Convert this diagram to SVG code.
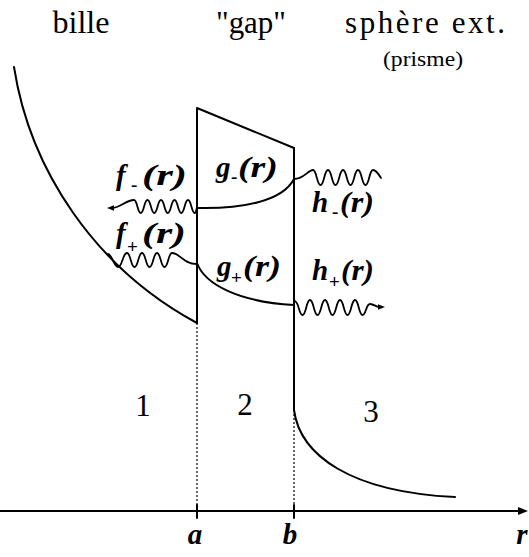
<svg xmlns="http://www.w3.org/2000/svg" width="529" height="557" viewBox="0 0 529 557">
<defs>
<style>
.ln{fill:none;stroke:#000;stroke-width:2;stroke-linecap:round;stroke-linejoin:round}
.wv{fill:none;stroke:#000;stroke-width:1.8;stroke-linecap:round;stroke-linejoin:round}
.dt{fill:none;stroke:#000;stroke-width:1.2;stroke-dasharray:2,2}
</style>
</defs>
<rect width="529" height="557" fill="#fff"/>

<g id="titles" font-family="Liberation Serif, serif" fill="#000">
<text x="81" y="33" font-size="31" text-anchor="middle" textLength="57" lengthAdjust="spacingAndGlyphs">bille</text>
<text x="251" y="33" font-size="31" text-anchor="middle" textLength="70" lengthAdjust="spacingAndGlyphs">"gap"</text>
<text x="425" y="33" font-size="31" text-anchor="middle" textLength="160" lengthAdjust="spacing">sphère ext.</text>
<text x="423" y="66" font-size="22" text-anchor="middle" textLength="80" lengthAdjust="spacingAndGlyphs">(prisme)</text>
</g>

<g id="potential">
<path class="ln" d="M14,67 C30,170 95,268 197,323"/>
<path class="ln" d="M197,323 L197,108 L294,148 L294,410"/>
<path class="ln" d="M294,410 C300,455 350,492 455,497"/>
<path class="ln" d="M197,208 C240,209 282,202 294,179"/>
<path class="ln" d="M197,263 C205,285 240,302 294,305"/>
<line class="dt" x1="197" y1="323" x2="197" y2="511"/>
<line class="dt" x1="294" y1="410" x2="294" y2="511"/>
</g>

<g id="waves">
<path class="wv" d="M112,208 C120,208 126,200 134,200 C137.4,200 137.4,213 140.75,213 C144.1,213 144.1,200 147.5,200 C150.9,200 150.9,213 154.25,213 C157.6,213 157.6,200 161,200 C164.4,200 164.4,213 167.75,213 C171.1,213 171.1,200 174.5,200 C177.9,200 177.9,213 181.25,213 C184.6,213 184.6,200 188,200 C191.4,200 191.4,213 194.75,213 C196,213 196.5,209 197,207"/>
<polygon points="107,208 114,205.3 114,210.7" fill="#000"/>
<path class="wv" d="M108,254 C112,254 114,267 118,267 C122.5,267 122.5,253 127,253 C130.75,253 130.75,267 134.5,267 C138.25,267 138.25,253 142,253 C145.75,253 145.75,267 149.5,267 C153.25,267 153.25,253 157,253 C160.75,253 160.75,267 164.5,267 C168.25,267 168.25,253 172,253 C180,253 183,264 197,264"/>
<path class="wv" d="M294,179 C304,179 308,170 313,170 C316.75,170 316.75,185 320.5,185 C324.25,185 324.25,170 328,170 C331.75,170 331.75,185 335.5,185 C339.25,185 339.25,170 343,170 C346.75,170 346.75,185 350.5,185 C354.25,185 354.25,170 358,170 C361.75,170 361.75,185 365.5,185 C369.25,185 369.25,170 373,170 C376,170 378,173 381,178"/>
<path class="wv" d="M294,301 C298.75,300 298.75,315 302.5,315 C306.25,315 306.25,300 310,300 C313.75,300 313.75,315 317.5,315 C321.25,315 321.25,300 325,300 C328.75,300 328.75,315 332.5,315 C336.25,315 336.25,300 340,300 C343.75,300 343.75,315 347.5,315 C351.25,315 351.25,300 355,300 C358.75,300 358.75,315 362.5,315 C366,315 366,304 370,304 C374,304 376,307 379,307"/>
<polygon points="385,307 378,304.3 378,309.7" fill="#000"/>
</g>

<g id="axis">
<line class="ln" x1="0" y1="511" x2="522" y2="511"/>
<polygon points="528,511 518,507 518,515" fill="#000"/>
<line class="ln" x1="197" y1="505" x2="197" y2="518"/>
<line class="ln" x1="294" y1="505" x2="294" y2="518"/>
</g>

<g id="labels" font-family="Liberation Serif, serif" fill="#000" font-weight="bold">
<g font-style="italic" font-size="29">
<text x="116" y="185">f</text><text x="142" y="185" textLength="45" lengthAdjust="spacingAndGlyphs">(r)</text>
<text x="116" y="243">f</text><text x="142" y="243" textLength="44" lengthAdjust="spacingAndGlyphs">(r)</text>
<text x="216" y="177">g</text><text x="238" y="177" textLength="40" lengthAdjust="spacingAndGlyphs">(r)</text>
<text x="217" y="276">g</text><text x="243" y="276" textLength="38" lengthAdjust="spacingAndGlyphs">(r)</text>
<text x="312" y="212">h</text><text x="340" y="212" textLength="34" lengthAdjust="spacingAndGlyphs">(r)</text>
<text x="312" y="280">h</text><text x="341" y="280" textLength="33" lengthAdjust="spacingAndGlyphs">(r)</text>
<text x="195" y="544" text-anchor="middle">a</text>
<text x="290" y="544" text-anchor="middle">b</text>
<text x="522" y="544" text-anchor="middle">r</text>
</g>
<g font-size="19">
<text x="131" y="191">-</text>
<text x="127" y="253">+</text>
<text x="231" y="183">-</text>
<text x="231" y="284">+</text>
<text x="332" y="218">-</text>
<text x="329" y="288">+</text>
</g>
<g font-weight="normal" font-size="31" text-anchor="middle">
<text x="143" y="416">1</text>
<text x="245" y="415">2</text>
<text x="371" y="422">3</text>
</g>
</g>
</svg>
